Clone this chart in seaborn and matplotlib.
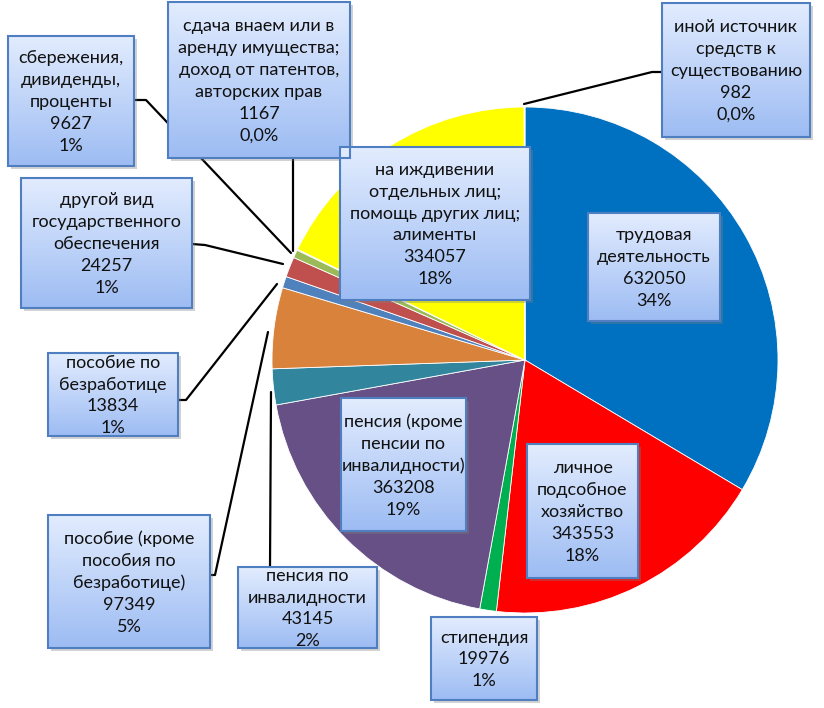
"""
Pie chart of income sources with callout boxes.
"""

import numpy as np
import matplotlib
matplotlib.use("Agg")
import matplotlib.pyplot as plt
from matplotlib.patches import Rectangle
import seaborn as sns

# Data
labels = [
    "трудовая\nдеятельность",
    "личное\nподсобное\nхозяйство",
    "стипендия",
    "пенсия (кроме\nпенсии по\nинвалидности)",
    "пенсия по\nинвалидности",
    "пособие (кроме\nпособия по\nбезработице)",
    "пособие по\nбезработице",
    "другой вид\nгосударственного\nобеспечения",
    "сбережения,\nдивиденды,\nпроценты",
    "сдача внаем или в\nаренду имущества;\nдоход от патентов,\nавторских прав",
    "на иждивении\nотдельных лиц;\nпомощь других лиц;\nалименты",
    "иной источник\nсредств к\nсуществованию",
]
values = [632050, 343553, 19976, 363208, 43145, 97349, 13834, 24257, 9627, 1167, 334057, 982]
pct_labels = ["34%", "18%", "1%", "19%", "2%", "5%", "1%", "1%", "1%", "0,0%", "18%", "0,0%"]

colors = sns.color_palette([
    "#0070C0", "#FF0000", "#00B050", "#675085", "#31859C", "#D9823B",
    "#4F81BD", "#C0504D", "#9BBB59", "#8064A2", "#FFFF00", "#4BACC6",
])

# Layout in pixel coords (x, y from top): box = (x0, y0, x1, y1)
W, H = 824, 708
boxes = [
    (588, 213, 720, 321),
    (527, 444, 638, 578),
    (431, 617, 537, 700),
    (341, 398, 466, 531),
    (238, 567, 377, 648),
    (48, 515, 210, 648),
    (48, 353, 178, 436),
    (21, 178, 192, 308),
    (8, 36, 134, 166),
    (168, 2, 350, 158),
    (340, 147, 530, 300),
    (662, 3, 810, 137),
]
leaders = {
    4: [(270, 567), (271, 392)],
    5: [(210, 575), (215, 575), (268, 332)],
    6: [(178, 400), (186, 400), (277, 284)],
    7: [(192, 244), (205, 245), (283, 264)],
    8: [(134, 100), (146, 100), (291, 253)],
    9: [(293, 158), (293, 251)],
    11: [(662, 72), (652, 72), (524, 104)],
}

sns.set_style("white")
plt.rcParams["font.family"] = ["Lato", "DejaVu Sans"]

fig = plt.figure(figsize=(W / 100, H / 100), dpi=100)
ax = fig.add_axes([0, 0, 1, 1])

ax.pie(values, colors=colors, startangle=90, counterclock=False,
       center=(525, H - 360), radius=253,
       wedgeprops=dict(linewidth=0.6, edgecolor="white"))

# leader lines
for i, pts in leaders.items():
    xs = [p[0] for p in pts]
    ys = [H - p[1] for p in pts]
    ax.plot(xs, ys, color="black", lw=1.6, zorder=3)

# gradient for the callout boxes
grad = np.linspace(0, 1, 256).reshape(-1, 1)
top = np.array(matplotlib.colors.to_rgb("#E2ECFE"))
bot = np.array(matplotlib.colors.to_rgb("#9DBCF3"))
grad_img = top * (1 - grad[..., None]) + bot * grad[..., None]

for i, (x0, y0, x1, y1) in enumerate(boxes):
    yb, yt = H - y1, H - y0
    ax.add_patch(Rectangle((x0 + 3, yb - 3), x1 - x0, yt - yb,
                           facecolor="#7f7f7f", alpha=0.35, lw=0, zorder=4))
    ax.imshow(grad_img, extent=(x0, x1, yb, yt), aspect="auto", zorder=5)
    ax.add_patch(Rectangle((x0, yb), x1 - x0, yt - yb, facecolor="none",
                           edgecolor="#4F7FC0", lw=1.5, zorder=6))
    text = f"{labels[i]}\n{values[i]}\n{pct_labels[i]}"
    ax.text((x0 + x1) / 2, (yb + yt) / 2 - 1, text, ha="center", va="center",
            fontsize=13, linespacing=1.45, color="#111111", zorder=7)

ax.set_xlim(0, W)
ax.set_ylim(0, H)
ax.set_aspect("auto")
ax.axis("off")

plt.savefig("out.png", dpi=100)
plt.close()
